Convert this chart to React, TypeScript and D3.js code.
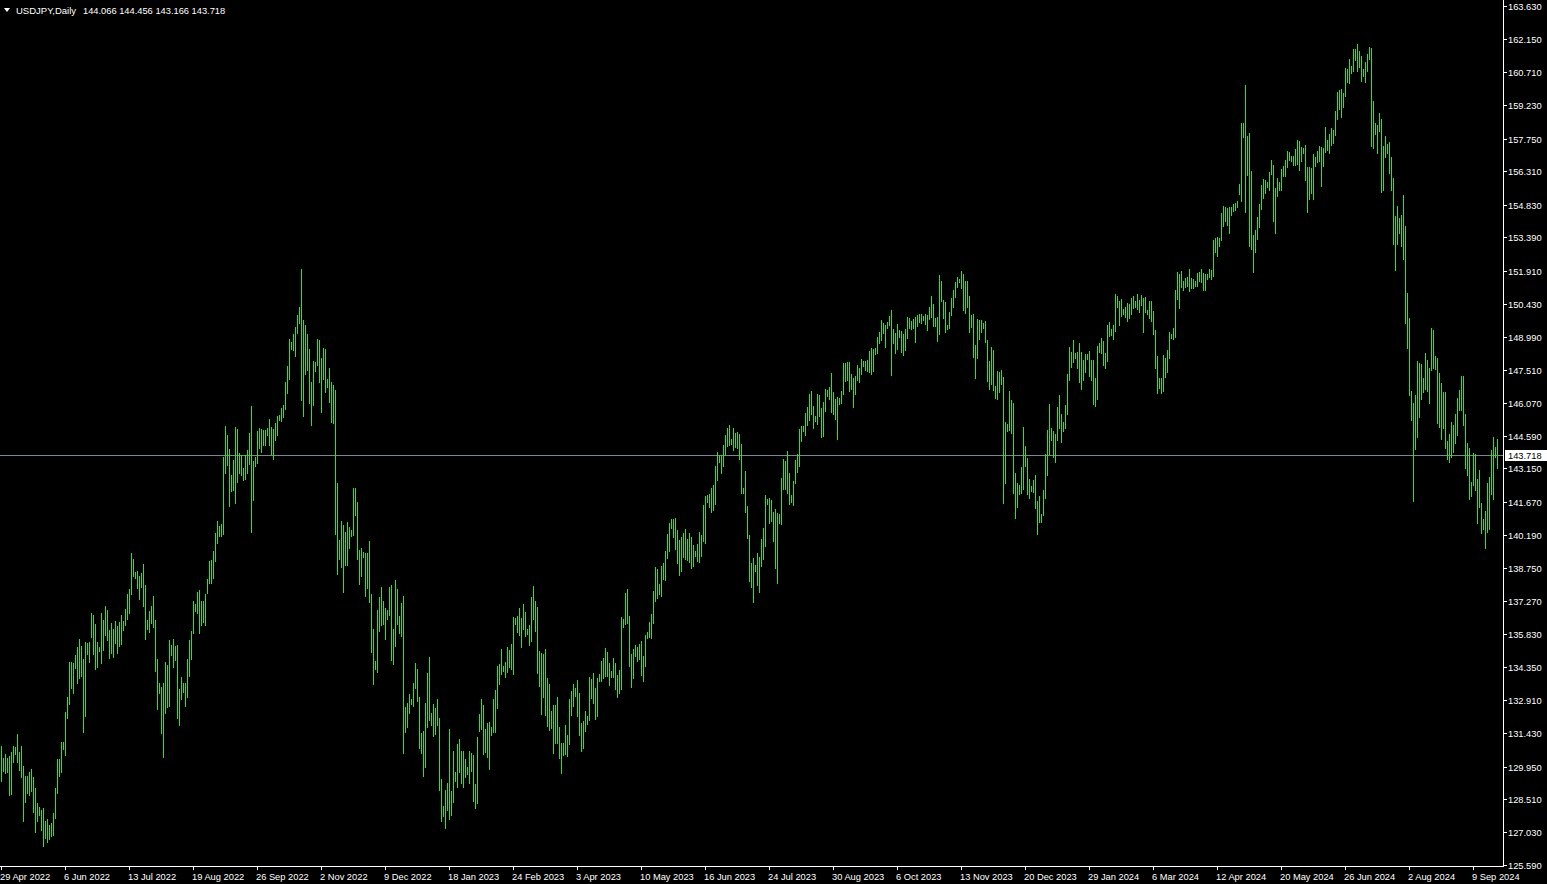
import React from "react";
import * as d3 from "d3";

const symbolTitle = "USDJPY,Daily";
const lastBar = [144.066, 144.456, 143.166, 143.718];
const bidPrice = 143.718;

const priceTicks = [
  163.63, 162.15, 160.71, 159.23, 157.75, 156.31, 154.83, 153.39, 151.91, 150.43,
  148.99, 147.51, 146.07, 144.59, 143.15, 141.67, 140.19, 138.75, 137.27, 135.83,
  134.35, 132.91, 131.43, 129.95, 128.51, 127.03, 125.59,
];

const dateLabels = [
  "29 Apr 2022", "6 Jun 2022", "13 Jul 2022", "19 Aug 2022", "26 Sep 2022", "2 Nov 2022",
  "9 Dec 2022", "18 Jan 2023", "24 Feb 2023", "3 Apr 2023", "10 May 2023", "16 Jun 2023",
  "24 Jul 2023", "30 Aug 2023", "6 Oct 2023", "13 Nov 2023", "20 Dec 2023", "29 Jan 2024",
  "6 Mar 2024", "12 Apr 2024", "20 May 2024", "26 Jun 2024", "2 Aug 2024", "9 Sep 2024",
];
const barsPerDateLabel = 32;

const highs = [
  130.87,130.34,130.51,130.34,130.43,130.60,130.87,130.81,131.40,130.60,
  130.87,129.98,129.54,129.54,129.72,129.85,129.50,129.01,128.33,128.14,
  128.03,128.11,127.56,127.64,127.34,127.43,127.89,128.98,130.29,130.29,
  131.05,131.05,132.36,133.04,134.59,134.59,134.54,134.90,135.25,135.61,
  135.27,134.72,135.47,135.44,135.47,136.76,136.67,136.27,135.47,135.25,
  136.76,136.45,137.07,136.89,136.00,136.30,136.03,136.40,136.18,136.33,
  136.64,136.40,136.92,137.58,137.82,139.40,139.15,138.57,138.62,138.41,
  138.53,138.93,138.00,136.45,136.85,
  137.04,137.51,136.45,134.73,133.64,133.49,133.67,134.59,134.45,135.56,
  135.34,135.60,135.27,135.34,133.38,133.92,133.67,133.63,134.73,135.56,
  135.96,137.30,137.13,137.70,137.77,137.30,137.26,137.60,138.26,139.06,
  139.10,139.50,140.30,140.83,140.62,140.71,143.66,145.04,144.61,144.02,
  142.84,143.53,144.99,144.90,143.84,143.75,143.18,143.75,143.97,144.73,
  145.92,143.50,143.66,144.82,144.95,144.90,144.86,144.86,144.95,145.35,
  144.99,144.90,145.17,145.48,145.52,145.83,145.97,146.98,147.69,148.89,
  148.76,149.11,149.42,149.95,150.31,
  151.99,149.73,149.50,149.10,148.43,146.97,147.91,147.86,148.87,148.84,
  148.04,148.48,148.43,147.11,147.60,146.97,146.84,146.63,142.50,139.98,
  140.82,140.65,140.34,140.78,140.55,140.42,142.29,142.29,141.67,139.54,
  139.62,139.46,139.41,139.41,139.93,137.59,136.03,134.62,136.88,137.46,
  137.90,137.28,136.97,136.88,137.90,137.97,136.03,138.21,137.82,136.62,
  137.20,137.51,132.59,132.76,133.18,132.94,133.64,134.53,134.26,133.04,
  131.45,131.53,132.76,134.08,134.79,132.31,132.72,132.56,132.94,132.09,
  129.38,128.20,128.92,129.22,131.61,
  128.87,130.65,129.72,130.96,131.18,130.65,130.65,130.29,129.94,130.65,
  130.56,130.47,129.18,131.27,132.28,132.95,132.68,131.62,131.89,131.93,
  131.71,132.95,133.35,134.41,134.50,135.16,134.41,134.59,135.25,135.12,
  135.38,136.58,136.53,136.62,136.98,136.53,137.15,136.80,136.05,136.22,
  137.46,137.95,137.29,137.02,135.07,134.98,134.94,135.16,133.88,133.61,
  132.42,132.68,132.68,133.04,131.71,131.00,131.00,131.80,131.35,132.95,
  133.30,133.61,133.43,133.79,133.21,131.89,131.97,132.42,132.20,133.92,
  133.83,134.10,133.43,133.88,134.05,
  134.64,134.77,135.20,135.04,134.55,134.20,134.77,134.55,134.02,134.24,
  136.59,136.50,137.65,137.83,136.63,134.95,135.17,135.35,135.26,135.39,
  135.53,134.86,135.79,135.92,136.37,136.72,137.74,138.80,138.71,138.05,
  138.85,138.98,139.51,140.26,140.75,140.93,140.93,140.97,140.44,140.00,
  140.13,140.31,140.49,140.04,140.31,140.13,139.78,139.51,139.82,140.35,
  140.22,141.55,141.95,141.99,142.04,142.30,142.43,143.28,143.89,143.72,
  143.76,144.20,144.65,144.96,145.09,144.47,144.96,144.74,144.78,144.69,
  144.25,142.30,143.05,141.50,140.22,
  138.96,139.18,138.87,139.40,139.23,140.02,140.51,141.97,141.80,141.84,
  141.75,141.22,141.35,141.18,141.15,142.73,143.57,143.48,143.92,142.95,
  141.97,142.59,143.52,143.79,144.90,145.03,145.03,145.60,145.87,146.44,
  146.58,145.91,145.47,146.44,146.40,145.82,146.09,146.67,146.62,146.75,
  147.37,146.53,146.22,146.31,146.27,146.58,147.82,147.83,147.86,147.86,
  147.33,147.15,147.24,147.73,147.60,147.99,147.92,147.92,147.95,148.35,
  148.48,148.44,148.48,148.97,149.19,149.72,149.60,149.51,149.63,149.90,
  150.16,149.32,149.15,149.54,149.28,
  149.24,149.10,149.32,149.86,149.81,149.68,149.77,149.86,149.94,149.99,
  149.99,149.90,149.99,149.94,150.30,150.79,150.43,149.81,149.86,151.72,
  151.45,150.61,150.52,149.50,150.08,150.70,151.05,151.41,151.63,151.54,
  151.89,151.76,151.45,151.45,150.79,149.94,149.99,148.62,149.77,149.72,
  149.72,149.59,149.68,148.84,147.91,148.53,148.39,146.80,147.46,147.42,
  147.51,147.20,145.21,145.12,146.58,146.18,146.05,142.95,142.51,142.42,
  143.21,144.99,144.14,143.61,142.68,142.37,142.64,142.86,141.71,141.93,
  141.13,142.20,143.79,144.85,146.00,
  144.94,144.81,144.68,145.87,146.40,145.56,145.21,145.96,147.33,148.53,
  148.31,148.84,148.26,148.31,148.71,148.31,147.95,148.22,148.22,148.35,
  147.95,147.95,147.16,148.57,148.71,148.93,148.79,148.26,149.50,149.64,
  149.33,149.50,150.88,150.79,150.57,150.65,150.21,150.30,150.48,150.43,
  150.70,150.79,150.57,150.88,150.61,150.83,150.70,150.74,150.17,150.57,
  150.57,150.12,149.28,148.13,147.16,147.16,148.17,148.04,148.40,149.19,
  149.10,149.37,151.05,151.85,151.76,151.89,151.45,151.58,151.63,151.98,
  151.58,151.54,151.45,151.81,151.85,
  151.99,151.81,151.77,151.77,151.99,151.94,153.27,153.36,153.41,153.36,
  154.47,154.78,154.73,154.69,154.73,154.73,154.87,154.91,155.00,155.75,
  158.45,158.45,160.14,157.88,158.01,156.33,153.49,153.72,154.29,154.87,
  155.71,155.97,155.93,155.84,156.28,156.81,156.59,155.57,156.02,155.84,
  156.42,156.55,156.81,157.21,157.17,156.99,156.99,157.30,157.70,157.66,
  157.39,157.35,157.48,156.50,156.50,156.46,157.08,156.95,157.21,157.43,
  157.39,157.35,158.28,157.70,157.97,158.23,158.14,158.98,159.83,159.91,
  159.96,159.78,160.87,160.85,161.28,
  160.97,161.73,161.72,161.96,161.64,161.42,160.85,161.15,161.51,161.82,
  161.78,159.43,158.44,158.36,158.87,158.63,157.44,157.87,157.53,157.61,
  156.94,156.01,154.34,154.77,154.25,154.38,155.26,153.89,150.92,149.82,
  146.58,146.03,146.40,147.91,147.82,147.76,147.17,148.26,147.97,147.61,
  149.37,149.28,148.11,148.05,147.38,146.94,146.54,146.54,144.37,144.68,
  145.20,145.07,145.56,146.27,146.63,147.23,147.26,145.56,144.28,144.04,
  142.56,143.84,143.77,142.69,143.08,141.63,140.91,141.27,142.51,142.78,
  143.96,144.55,144.10,144.456,
];

const lows = [
  129.33,129.76,129.66,129.70,128.67,128.74,130.17,130.51,130.13,129.81,
  129.47,127.56,128.36,128.80,128.70,128.85,127.92,127.07,127.52,127.81,
  127.15,126.41,126.77,126.59,126.72,126.88,126.90,127.65,128.76,129.55,
  129.72,130.74,130.44,132.12,132.74,133.41,133.22,134.32,133.63,133.89,
  133.97,131.50,132.21,134.94,134.56,135.69,134.94,134.29,134.38,135.05,
  134.54,135.13,135.78,135.56,134.76,135.00,134.82,135.44,134.96,135.27,
  135.36,135.98,136.23,136.49,136.74,137.61,138.41,138.28,137.86,137.38,
  137.92,137.04,135.58,136.05,135.89,
  136.30,136.11,134.20,132.52,133.20,131.43,130.39,132.31,132.58,132.61,
  134.88,134.38,134.68,132.09,131.77,132.92,133.23,132.61,133.01,133.94,
  134.70,135.86,136.86,136.74,135.86,136.20,136.33,136.24,137.63,138.10,
  138.06,138.28,139.07,139.87,140.14,140.14,140.27,142.93,143.32,141.51,
  142.14,142.19,141.60,142.57,142.93,142.84,142.66,142.70,142.97,143.37,
  140.35,141.77,143.24,143.41,144.06,143.90,144.21,144.21,144.61,144.17,
  143.77,143.55,144.39,144.65,145.30,145.23,145.45,145.80,146.47,147.09,
  148.42,148.40,148.11,149.13,149.57,
  146.20,145.47,147.35,147.52,146.06,145.09,145.96,147.47,147.73,146.99,
  145.65,147.11,146.53,146.76,146.09,145.21,145.16,140.23,138.49,139.16,
  138.78,137.69,138.87,138.87,139.62,140.18,140.21,141.09,139.16,138.03,
  138.39,139.23,137.52,137.87,137.23,135.03,133.61,134.26,134.15,135.97,
  136.21,136.26,135.59,136.49,136.64,134.67,134.49,135.30,136.28,135.87,
  135.74,130.56,131.50,131.68,132.33,132.72,132.64,133.43,132.86,130.79,
  130.56,129.55,129.94,131.71,132.02,131.79,131.32,131.41,131.81,128.89,
  127.52,127.78,127.25,128.04,127.61,
  127.81,128.39,129.32,129.05,129.72,129.23,129.05,129.49,129.63,129.23,
  129.76,128.43,128.12,128.34,131.53,131.62,130.51,130.60,130.38,129.85,
  131.35,131.49,131.49,132.55,133.61,134.05,134.19,133.92,134.14,134.36,
  134.28,134.05,136.27,135.91,135.78,135.25,136.05,135.74,135.83,135.34,
  135.52,136.49,135.96,134.10,133.52,132.28,133.04,132.24,131.75,131.58,
  131.66,130.56,131.00,131.00,130.34,129.67,130.47,130.51,130.42,130.96,
  132.24,132.64,133.08,132.20,131.35,130.65,130.78,131.53,131.84,132.02,
  132.99,132.77,132.06,132.20,133.74,
  133.75,133.89,133.98,133.98,133.58,133.93,133.93,133.40,133.05,133.22,
  133.40,136.15,136.28,136.32,134.42,133.49,133.89,134.86,134.64,134.73,
  134.02,133.75,134.42,135.66,135.70,135.66,136.32,137.30,137.43,137.61,
  137.52,138.27,138.23,139.20,139.51,140.53,140.13,139.60,138.98,138.45,
  138.63,139.25,139.16,139.11,139.02,138.76,138.85,139.29,139.07,139.02,
  139.29,139.95,139.87,141.68,141.46,141.24,141.33,141.59,142.66,143.45,
  142.97,143.28,143.76,144.16,144.20,144.25,143.98,144.12,144.07,143.59,
  142.08,142.08,141.24,140.09,138.18,
  137.91,137.25,138.62,138.00,137.69,138.84,139.15,139.73,141.59,140.75,
  140.84,139.95,138.75,138.09,140.75,140.70,142.25,142.25,142.08,141.59,
  141.68,141.54,142.52,143.01,143.27,144.38,144.82,144.64,145.09,145.31,
  145.57,144.95,145.26,145.13,145.49,144.56,144.60,145.71,146.36,146.24,
  145.66,145.57,145.35,144.47,146.02,146.06,146.46,147.04,147.06,146.59,
  146.68,145.88,146.46,147.08,146.99,147.35,147.68,147.51,147.48,147.43,
  147.35,147.46,148.23,148.28,148.70,148.85,149.16,148.54,149.38,149.50,
  147.30,148.70,148.28,148.45,148.98,
  148.31,148.17,148.39,148.93,149.37,149.32,149.37,148.75,149.46,149.63,
  149.59,149.72,149.55,149.28,149.77,149.86,149.46,149.46,148.79,149.10,
  150.56,149.81,149.19,149.32,149.37,149.94,150.30,150.74,151.18,151.41,
  151.14,150.17,150.03,150.30,149.19,149.41,148.08,147.15,148.04,148.88,
  149.19,149.37,148.75,147.02,146.67,146.89,146.62,146.27,146.23,146.53,
  146.89,141.62,142.51,144.81,144.85,144.72,142.06,140.96,141.44,142.02,
  142.06,142.24,143.26,142.02,141.84,142.15,142.11,141.40,140.25,140.78,
  140.78,141.09,141.84,142.86,143.79,
  144.41,143.66,143.44,144.41,144.94,144.32,144.81,144.94,145.56,147.07,
  147.64,147.86,148.04,147.60,146.98,146.67,147.07,147.42,148.00,147.25,
  147.07,146.01,145.92,146.23,148.31,148.26,147.73,147.60,147.91,149.02,
  149.06,148.88,149.24,150.30,149.50,149.90,149.99,149.86,149.68,149.81,
  149.99,150.26,150.30,150.21,150.08,150.39,149.19,150.08,149.99,149.81,
  149.68,149.10,147.60,146.49,146.71,146.49,146.58,147.20,147.42,148.04,
  148.93,148.88,148.97,150.65,150.26,151.19,151.05,151.19,151.23,151.01,
  151.14,151.14,151.23,151.23,151.45,
  151.41,151.06,151.06,151.55,151.63,151.55,151.68,152.74,152.56,153.01,
  153.27,153.89,154.11,153.94,153.58,154.38,154.56,154.60,154.73,155.31,
  155.00,157.83,154.51,156.15,153.01,152.87,151.86,152.74,153.32,153.85,
  154.65,155.13,155.35,155.62,155.49,156.19,154.11,153.58,155.22,155.49,
  155.49,156.11,156.11,156.50,156.81,156.77,156.59,156.59,156.64,156.37,
  156.77,157.12,155.93,154.51,155.09,155.35,155.09,156.55,156.73,156.77,
  155.66,156.55,157.17,157.26,157.12,157.48,157.57,157.92,158.63,159.07,
  158.72,159.16,159.65,160.27,160.22,
  160.68,160.74,161.22,160.77,160.95,160.32,160.52,160.28,160.74,161.30,
  157.44,157.36,157.96,157.14,158.11,155.38,155.46,156.96,157.11,156.24,
  155.50,153.11,151.96,153.11,153.59,153.02,152.41,149.61,148.50,146.42,
  145.31,141.69,144.01,144.55,145.43,146.24,146.55,146.67,146.60,146.06,
  147.53,147.59,147.56,145.17,144.98,144.47,144.95,144.07,143.59,143.45,
  143.68,143.90,144.29,144.65,145.76,145.76,145.09,143.18,142.87,141.82,
  141.94,142.44,142.21,140.74,141.46,140.31,140.47,139.61,140.32,140.49,
  142.03,141.78,143.68,143.166,
];

const W = 1547;
const H = 884;
const AXIS_X = 1503;
const AXIS_Y = 866;
const BAR_COLOR = "#33e022";
const FONT = "'Liberation Sans', Arial, sans-serif";

export default function App() {
  const n = highs.length;
  const y = d3.scaleLinear().domain([125.59, 163.63]).range([865, 6]);
  const x = d3.scaleLinear().domain([0, n - 1]).range([1.5, 1.5 + 2 * (n - 1)]);
  const bars = d3.range(n).map((i) => ({ i, hi: highs[i], lo: lows[i] }));
  const bidY = Math.floor(y(bidPrice)) + 0.5;
  const fmt = d3.format(".3f");

  return (
    <svg
      width={W}
      height={H}
      style={{ position: "fixed", left: 0, top: 0, display: "block" }}
      fontFamily={FONT}
    >
      <rect x={0} y={0} width={W} height={H} fill="#000" />
      {/* bid line */}
      <line x1={0} x2={AXIS_X} y1={bidY} y2={bidY} stroke="#778899" strokeWidth={1} shapeRendering="crispEdges" />
      {/* bars */}
      <g stroke={BAR_COLOR} strokeWidth={1} shapeRendering="crispEdges">
        {bars.map((b) => (
          <line key={b.i} x1={x(b.i)} x2={x(b.i)} y1={Math.round(y(b.hi))} y2={Math.round(y(b.lo)) + 1} />
        ))}
      </g>
      {/* axes frame */}
      <line x1={AXIS_X + 0.5} x2={AXIS_X + 0.5} y1={0} y2={AXIS_Y + 1} stroke="#fff" shapeRendering="crispEdges" />
      <line x1={0} x2={AXIS_X + 1} y1={AXIS_Y + 0.5} y2={AXIS_Y + 0.5} stroke="#fff" shapeRendering="crispEdges" />
      {/* price ticks */}
      <g fill="#fff" fontSize={9.3}>
        {priceTicks.map((p) => {
          const ty = Math.round(y(p)) + 0.5;
          return (
            <g key={p}>
              <line x1={AXIS_X} x2={AXIS_X + 4} y1={ty} y2={ty} stroke="#fff" shapeRendering="crispEdges" />
              <text x={AXIS_X + 5} y={ty + 3.4}>{fmt(p)}</text>
            </g>
          );
        })}
      </g>
      {/* bid label */}
      <rect x={AXIS_X + 2} y={bidY - 5.5} width={W - AXIS_X - 2} height={11} fill="#fff" />
      <text x={AXIS_X + 5} y={bidY + 3.4} fill="#000" fontSize={9.3}>{fmt(bidPrice)}</text>
      {/* date labels */}
      <g fill="#fff" fontSize={9.3}>
        {dateLabels.map((d, k) => {
          const tx = x(k * barsPerDateLabel);
          return (
            <g key={d}>
              <line x1={tx} x2={tx} y1={AXIS_Y} y2={AXIS_Y + 4} stroke="#fff" shapeRendering="crispEdges" />
              <text x={tx - 1.5} y={880}>{d}</text>
            </g>
          );
        })}
      </g>
      {/* header */}
      <path d="M4,8 L10,8 L7,12 Z" fill="#fff" />
      <text x={16} y={14} fill="#fff" fontSize={9.5}>{symbolTitle}</text>
      <text x={83} y={14} fill="#fff" fontSize={9.3}>{lastBar.map((v) => fmt(v)).join(" ")}</text>
    </svg>
  );
}
